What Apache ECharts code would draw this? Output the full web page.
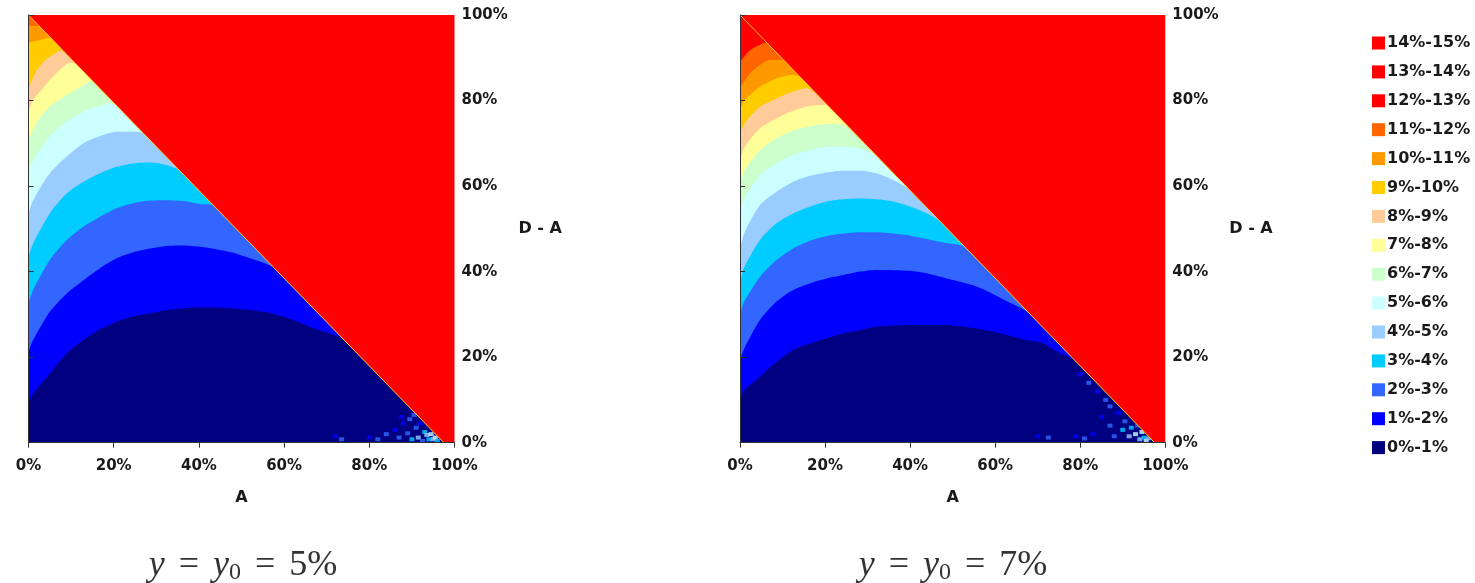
<!DOCTYPE html>
<html>
<head>
<meta charset="utf-8">
<script src="https://cdn.jsdelivr.net/npm/echarts@6.0.0/dist/echarts.min.js"></script>
<style>
  html, body { margin: 0; padding: 0; background: #ffffff; }
  #chart { width: 1475px; height: 583px; }
</style>
</head>
<body>
<div id="chart"></div>
<script>
// Return classes (legend order is from the highest class down)
const levelNames = ['0%-1%', '1%-2%', '2%-3%', '3%-4%', '4%-5%', '5%-6%', '6%-7%', '7%-8%',
  '8%-9%', '9%-10%', '10%-11%', '11%-12%', '12%-13%', '13%-14%', '14%-15%'];

// Axis ticks (fractions of 1)
const tickValues = [0, 0.2, 0.4, 0.6, 0.8, 1];

// Panel captions: y = y0 = ...
const y0Values = ['5%', '7%'];

// Edge of the admissible region: A + (D - A) <= 1; beyond it every cell is in the top class
const feasibleEdge = [[0, 1], [0.975, 0]];

// Upper edge of each class, as [A, D - A] points, for y0 = 5%
const edges5 = [
  [[0, 0.092], [0.011, 0.115], [0.05, 0.162], [0.09, 0.209], [0.129, 0.24], [0.168, 0.265], [0.207, 0.283], [0.246, 0.295], [0.285, 0.302], [0.324, 0.31], [0.363, 0.314], [0.403, 0.316], [0.481, 0.314], [0.559, 0.305], [0.622, 0.287], [0.676, 0.265], [0.716, 0.252], [0.739, 0.242]],
  [[0, 0.213], [0.011, 0.24], [0.05, 0.306], [0.09, 0.349], [0.129, 0.38], [0.168, 0.408], [0.207, 0.431], [0.246, 0.445], [0.285, 0.454], [0.324, 0.46], [0.363, 0.461], [0.403, 0.458], [0.442, 0.452], [0.481, 0.444], [0.52, 0.431], [0.559, 0.418], [0.575, 0.41]],
  [[0, 0.326], [0.011, 0.357], [0.05, 0.427], [0.09, 0.474], [0.129, 0.505], [0.168, 0.528], [0.207, 0.548], [0.246, 0.56], [0.285, 0.566], [0.324, 0.567], [0.363, 0.565], [0.403, 0.558], [0.434, 0.555]],
  [[0, 0.435], [0.011, 0.466], [0.05, 0.536], [0.09, 0.583], [0.129, 0.61], [0.168, 0.63], [0.207, 0.645], [0.246, 0.653], [0.285, 0.655], [0.324, 0.649], [0.356, 0.635]],
  [[0, 0.536], [0.011, 0.567], [0.05, 0.63], [0.09, 0.669], [0.129, 0.70], [0.168, 0.717], [0.207, 0.727], [0.246, 0.727], [0.27, 0.723]],
  [[0, 0.63], [0.011, 0.661], [0.05, 0.716], [0.09, 0.751], [0.129, 0.774], [0.168, 0.787], [0.2, 0.795]],
  [[0, 0.708], [0.02, 0.75], [0.05, 0.786], [0.09, 0.813], [0.129, 0.836], [0.15, 0.846]],
  [[0, 0.774], [0.01, 0.80], [0.025, 0.818], [0.05, 0.848], [0.075, 0.873], [0.096, 0.888], [0.112, 0.885]],
  [[0, 0.827], [0.018, 0.869], [0.041, 0.896], [0.065, 0.912], [0.08, 0.918]],
  [[0, 0.935], [0.02, 0.94], [0.05, 0.947]],
  [[0, 0.975], [0.025, 0.974]],
  [[0, 0.995], [0.005, 0.995]]
];

// Upper edge of each class, as [A, D - A] points, for y0 = 7%
const edges7 = [
  [[0, 0.092], [0.008, 0.12], [0.047, 0.154], [0.086, 0.189], [0.125, 0.217], [0.165, 0.232], [0.204, 0.244], [0.243, 0.256], [0.282, 0.263], [0.321, 0.271], [0.4, 0.275], [0.478, 0.275], [0.556, 0.267], [0.611, 0.256], [0.674, 0.24], [0.713, 0.232], [0.752, 0.209], [0.79, 0.19]],
  [[0, 0.19], [0.01, 0.22], [0.047, 0.287], [0.086, 0.33], [0.125, 0.357], [0.165, 0.373], [0.204, 0.384], [0.243, 0.392], [0.282, 0.4], [0.321, 0.404], [0.4, 0.402], [0.439, 0.396], [0.478, 0.386], [0.556, 0.365], [0.619, 0.335], [0.68, 0.302]],
  [[0, 0.30], [0.01, 0.33], [0.047, 0.388], [0.086, 0.427], [0.125, 0.454], [0.165, 0.472], [0.204, 0.483], [0.243, 0.489], [0.282, 0.492], [0.321, 0.492], [0.36, 0.489], [0.4, 0.484], [0.478, 0.468], [0.53, 0.456]],
  [[0, 0.37], [0.01, 0.41], [0.047, 0.474], [0.086, 0.513], [0.125, 0.536], [0.165, 0.552], [0.204, 0.564], [0.243, 0.569], [0.282, 0.571], [0.321, 0.569], [0.36, 0.564], [0.4, 0.552], [0.439, 0.536], [0.47, 0.518]],
  [[0, 0.45], [0.01, 0.49], [0.047, 0.556], [0.086, 0.587], [0.125, 0.61], [0.165, 0.624], [0.204, 0.632], [0.243, 0.636], [0.282, 0.636], [0.321, 0.63], [0.36, 0.614], [0.4, 0.59]],
  [[0, 0.53], [0.01, 0.57], [0.047, 0.626], [0.086, 0.653], [0.125, 0.673], [0.165, 0.684], [0.204, 0.692], [0.243, 0.692], [0.282, 0.688], [0.321, 0.67], [0.345, 0.646]],
  [[0, 0.60], [0.01, 0.635], [0.047, 0.684], [0.086, 0.712], [0.125, 0.73], [0.165, 0.74], [0.204, 0.745], [0.243, 0.743], [0.29, 0.703]],
  [[0, 0.66], [0.01, 0.69], [0.047, 0.735], [0.086, 0.758], [0.125, 0.776], [0.165, 0.787], [0.204, 0.79], [0.243, 0.751]],
  [[0, 0.72], [0.01, 0.745], [0.047, 0.786], [0.086, 0.805], [0.125, 0.821], [0.157, 0.829], [0.18, 0.815]],
  [[0, 0.78], [0.01, 0.80], [0.047, 0.832], [0.086, 0.852], [0.118, 0.86], [0.141, 0.855]],
  [[0, 0.83], [0.01, 0.845], [0.031, 0.871], [0.071, 0.895], [0.102, 0.895]],
  [[0, 0.89], [0.024, 0.918], [0.055, 0.934], [0.063, 0.935]]
];

// Isolated noisy cells near the lower-right corner: [A, D - A, class]
const speckles5 = [
  [0.72, 0.015, 1], [0.735, 0.008, 2], [0.80, 0.012, 1], [0.82, 0.008, 2], [0.84, 0.02, 2],
  [0.86, 0.03, 1], [0.87, 0.012, 2], [0.88, 0.045, 1], [0.89, 0.022, 2], [0.90, 0.008, 3],
  [0.895, 0.055, 2], [0.91, 0.035, 2], [0.915, 0.012, 4], [0.92, 0.045, 1], [0.93, 0.025, 3],
  [0.94, 0.008, 3], [0.935, 0.018, 4], [0.945, 0.02, 5], [0.95, 0.008, 4], [0.955, 0.012, 5],
  [0.96, 0.004, 3], [0.905, 0.065, 2], [0.925, 0.004, 2], [0.875, 0.06, 1]
];
const speckles7 = [
  [0.70, 0.015, 1], [0.725, 0.012, 2], [0.79, 0.015, 1], [0.81, 0.01, 2], [0.83, 0.02, 1],
  [0.80, 0.16, 1], [0.82, 0.14, 2], [0.84, 0.12, 1], [0.86, 0.1, 2], [0.85, 0.06, 1],
  [0.87, 0.04, 2], [0.88, 0.015, 2], [0.89, 0.07, 1], [0.90, 0.03, 3], [0.905, 0.05, 2],
  [0.915, 0.015, 4], [0.92, 0.035, 3], [0.93, 0.02, 5], [0.935, 0.04, 2], [0.94, 0.008, 4],
  [0.945, 0.025, 5], [0.95, 0.012, 3], [0.955, 0.004, 5], [0.96, 0.01, 4], [0.87, 0.085, 2]
];

const levelColors = ['#000080', '#0000ff', '#3366ff', '#00ccff', '#99ccff', '#ccffff', '#ccffcc',
  '#ffff99', '#ffcc99', '#ffcc00', '#ff9900', '#ff6600', '#ff0000', '#ff0000', '#ff0000'];

const labelFont = 'DejaVu Sans';
const pct = v => Math.round(v * 100) + '%';

function bandSeries(edges, idx) {
  return edges.map((pts, k) => ({
    type: 'line',
    name: levelNames[k],
    xAxisIndex: idx,
    yAxisIndex: idx,
    data: pts.concat([feasibleEdge[1]]),
    smooth: 0.25,
    symbol: 'none',
    silent: true,
    lineStyle: { width: 0, opacity: 0 },
    itemStyle: { color: levelColors[k] },
    areaStyle: { color: levelColors[k], opacity: 1, origin: 'start' },
    z: 30 - k
  }));
}

function edgeSeries(idx) {
  return {
    type: 'line',
    xAxisIndex: idx,
    yAxisIndex: idx,
    data: feasibleEdge,
    symbol: 'none',
    silent: true,
    lineStyle: { color: '#ffc61a', width: 1 },
    areaStyle: { color: '#ff0000', opacity: 1, origin: 'end' },
    z: 40
  };
}

function speckleSeries(list, idx) {
  return {
    type: 'scatter',
    xAxisIndex: idx,
    yAxisIndex: idx,
    data: list,
    symbol: 'rect',
    symbolSize: [5, 4],
    silent: true,
    itemStyle: { color: p => levelColors[p.data[2]] },
    z: 35
  };
}

// Classes that never appear below the edge still get a legend entry
const legendOnly = [12, 13, 14].map(k => ({
  type: 'line', name: levelNames[k], data: [], xAxisIndex: 0, yAxisIndex: 0,
  itemStyle: { color: levelColors[k] }, lineStyle: { opacity: 0 }, symbol: 'none'
}));

const grids = [
  { left: 28.5, top: 15, width: 426, height: 427.7 },
  { left: 740, top: 15, width: 425.3, height: 427.7 }
];

function xAxisFor(idx) {
  return {
    type: 'value', gridIndex: idx, min: tickValues[0], max: tickValues[tickValues.length - 1], interval: tickValues[1] - tickValues[0],
    name: 'A', nameLocation: 'middle', nameGap: 47,
    nameTextStyle: { fontFamily: labelFont, fontWeight: 'bold', fontSize: 16, color: '#1a1a1a' },
    axisLine: { show: true, lineStyle: { color: '#333', width: 1 } },
    axisTick: { show: true, length: 5, lineStyle: { color: '#333' } },
    axisLabel: { formatter: pct, margin: 16, fontFamily: labelFont, fontWeight: 'bold', fontSize: 15, color: '#1a1a1a', showMaxLabel: true, showMinLabel: true },
    splitLine: { show: false },
    z: 50
  };
}
function yAxisFor(idx) {
  return {
    type: 'value', gridIndex: idx, min: tickValues[0], max: tickValues[tickValues.length - 1], interval: tickValues[1] - tickValues[0], position: 'right',
    name: 'D - A', nameLocation: 'middle', nameGap: 64, nameRotate: 0,
    nameTextStyle: { fontFamily: labelFont, fontWeight: 'bold', fontSize: 16, color: '#1a1a1a', align: 'left', padding: [6, 0, 0, 0] },
    axisLine: { show: true, lineStyle: { color: '#333', width: 1 } },
    axisTick: { show: true, length: 5, lineStyle: { color: '#333' } },
    axisLabel: { formatter: pct, margin: 7, fontFamily: labelFont, fontWeight: 'bold', fontSize: 15, color: '#1a1a1a' },
    splitLine: { show: false },
    z: 50
  };
}

function caption(cx, value) {
  return {
    type: 'text',
    x: cx,
    y: 566,
    silent: true,
    style: {
      text: '{i|y}{o|=}{i|y}{s|0}{o|=}{n|' + value + '}',
      align: 'center',
      verticalAlign: 'middle',
      fill: '#333',
      rich: {
        i: { fontFamily: 'Liberation Serif', fontStyle: 'italic', fontSize: 36, fill: '#333' },
        o: { fontFamily: 'Liberation Serif', fontSize: 36, fill: '#333', padding: [0, 14, 0, 14] },
        s: { fontFamily: 'Liberation Serif', fontSize: 24, fill: '#333', padding: [14, 0, 0, 0] },
        n: { fontFamily: 'Liberation Serif', fontSize: 36, fill: '#333' }
      }
    }
  };
}

const chart = echarts.init(document.getElementById('chart'), null, { renderer: 'canvas' });
chart.setOption({
  animation: false,
  backgroundColor: '#ffffff',
  grid: grids.map(g => Object.assign({ show: true, backgroundColor: '#ff0000', borderWidth: 0 }, g)),
  xAxis: [xAxisFor(0), xAxisFor(1)],
  yAxis: [yAxisFor(0), yAxisFor(1)],
  legend: {
    orient: 'vertical',
    left: 1372,
    top: 35,
    padding: 0,
    icon: 'rect',
    itemWidth: 13,
    itemHeight: 13,
    itemGap: 12.9,
    selectedMode: false,
    data: levelNames.slice().reverse(),
    textStyle: { fontFamily: labelFont, fontWeight: 'bold', fontSize: 16, lineHeight: 16, color: '#1a1a1a', padding: [0, 0, 0, -3] }
  },
  graphic: [caption(243, y0Values[0]), caption(953, y0Values[1])],
  series: [].concat(
    bandSeries(edges5, 0), [edgeSeries(0), speckleSeries(speckles5, 0)],
    bandSeries(edges7, 1), [edgeSeries(1), speckleSeries(speckles7, 1)],
    legendOnly
  )
});
</script>
</body>
</html>
